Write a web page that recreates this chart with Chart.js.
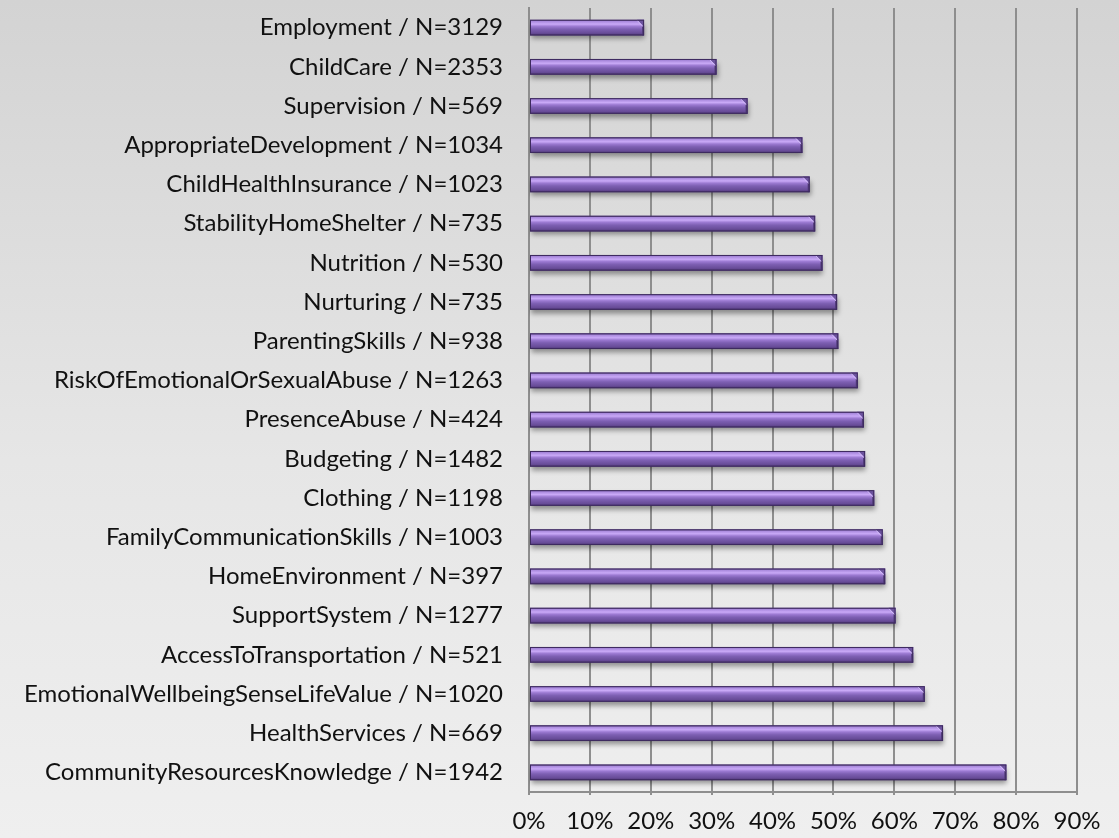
<!DOCTYPE html>
<html>
<head>
<meta charset="utf-8">
<script src="https://cdn.jsdelivr.net/npm/chart.js@4.4.1/dist/chart.umd.min.js"></script>
<style>
  html, body { margin: 0; padding: 0; background: #e4e4e4; }
  #wrap { width: 1119px; height: 838px; position: relative; }
  canvas { display: block; }
</style>
</head>
<body>
<div id="wrap"><canvas id="chart" width="1119" height="838"></canvas></div>
<script>
// Domains and their sample sizes
const domains = [
  'Employment', 'ChildCare', 'Supervision', 'AppropriateDevelopment',
  'ChildHealthInsurance', 'StabilityHomeShelter', 'Nutrition', 'Nurturing',
  'ParentingSkills', 'RiskOfEmotionalOrSexualAbuse', 'PresenceAbuse', 'Budgeting',
  'Clothing', 'FamilyCommunicationSkills', 'HomeEnvironment', 'SupportSystem',
  'AccessToTransportation', 'EmotionalWellbeingSenseLifeValue', 'HealthServices',
  'CommunityResourcesKnowledge'
];
const sampleSizes = [
  3129, 2353, 569, 1034, 1023, 735, 530, 735, 938, 1263,
  424, 1482, 1198, 1003, 397, 1277, 521, 1020, 669, 1942
];
// Share of families (percent)
const percentages = [
  18.9, 30.8, 35.9, 44.9, 46.1, 47.0, 48.2, 50.6, 50.8, 54.0,
  55.0, 55.2, 56.7, 58.1, 58.5, 60.2, 63.1, 65.0, 68.0, 78.4
];
// Axis tick labels
const tickLabels = ['0%', '10%', '20%', '30%', '40%', '50%', '60%', '70%', '80%', '90%'];

const categoryLabels = domains.map((d, i) => d + ' / N=' + sampleSizes[i]);

const FONT = 'Lato, "Open Sans", sans-serif';

// Page background: soft vertical grey gradient
const backdrop = {
  id: 'backdrop',
  beforeDraw(chart) {
    const { ctx, width, height } = chart;
    const g = ctx.createLinearGradient(0, 0, 0, height);
    g.addColorStop(0, '#d3d3d3');
    g.addColorStop(0.55, '#e6e6e6');
    g.addColorStop(1, '#efefef');
    ctx.save();
    ctx.fillStyle = g;
    ctx.fillRect(0, 0, width, height);
    ctx.restore();
  }
};

// Drop shadow under the bars
const barShadow = {
  id: 'barShadow',
  beforeDatasetDraw(chart) {
    const ctx = chart.ctx;
    ctx.save();
    ctx.shadowColor = 'rgba(0,0,0,0.38)';
    ctx.shadowBlur = 5;
    ctx.shadowOffsetX = 1;
    ctx.shadowOffsetY = 4;
  },
  afterDatasetDraw(chart) {
    chart.ctx.restore();
  }
};

// Bevelled end cap and edge lines on each bar
const bevel = {
  id: 'bevel',
  afterDatasetsDraw(chart) {
    const ctx = chart.ctx;
    const meta = chart.getDatasetMeta(0);
    ctx.save();
    meta.data.forEach(el => {
      const xe = el.x, xb = el.base;
      const yt = el.y - el.height / 2, yb = el.y + el.height / 2;
      const h = el.height;
      const c = Math.min(7, h * 0.45);
      // chamfered top-right corner
      ctx.beginPath();
      ctx.moveTo(xe - c, yt);
      ctx.lineTo(xe, yt);
      ctx.lineTo(xe, yt + c);
      ctx.closePath();
      ctx.fillStyle = '#6c529e';
      ctx.fill();
      // right facet
      ctx.fillStyle = '#4f3a78';
      ctx.fillRect(xe - 2, yt + c - 1, 2, yb - yt - c + 1);
      // diagonal highlight
      ctx.beginPath();
      ctx.moveTo(xe - c, yt + 0.5);
      ctx.lineTo(xe - 1, yt + c);
      ctx.strokeStyle = 'rgba(215,195,250,0.8)';
      ctx.lineWidth = 1;
      ctx.stroke();
      // outline
      ctx.strokeStyle = '#3d2a5e';
      ctx.lineWidth = 1;
      ctx.strokeRect(xb + 0.5, yt + 0.5, xe - xb - 1, h - 1);
    });
    ctx.restore();
  }
};

function barFill(context) {
  const chart = context.chart;
  const yScale = chart.scales && chart.scales.y;
  if (!chart.chartArea || !yScale) return '#7d5fb0';
  const cy = yScale.getPixelForValue(context.dataIndex);
  const band = yScale.height / domains.length;
  const h = band * 0.4;
  const g = chart.ctx.createLinearGradient(0, cy - h / 2, 0, cy + h / 2);
  g.addColorStop(0, '#5d4488');
  g.addColorStop(0.1, '#a888dc');
  g.addColorStop(0.28, '#c9a9f7');
  g.addColorStop(0.42, '#9c7ad2');
  g.addColorStop(0.6, '#7d5fb2');
  g.addColorStop(0.85, '#684c98');
  g.addColorStop(1, '#4a3470');
  return g;
}

new Chart(document.getElementById('chart'), {
  type: 'bar',
  data: {
    labels: categoryLabels,
    datasets: [{
      data: percentages,
      backgroundColor: barFill,
      borderWidth: 0,
      barPercentage: 0.4,
      categoryPercentage: 1.0
    }]
  },
  options: {
    indexAxis: 'y',
    responsive: false,
    animation: false,
    layout: { padding: { top: 8, right: 42, bottom: 0, left: 0 } },
    plugins: {
      legend: { display: false },
      tooltip: { enabled: false }
    },
    scales: {
      x: {
        min: 0,
        max: 90,
        afterFit(scale) {
          scale.height = 46;
        },
        ticks: {
          stepSize: 10,
          padding: 12,
          color: '#111',
          font: { family: FONT, size: 24 },
          callback: (v, i) => tickLabels[i]
        },
        grid: {
          color: '#8e8e8e',
          lineWidth: 2,
          drawTicks: true,
          tickLength: 3
        },
        border: { display: true, color: '#8e8e8e', width: 2 }
      },
      y: {
        afterFit(scale) {
          scale.width = 529;
          scale.paddingTop = 0;
          scale.paddingBottom = 0;
        },
        ticks: {
          padding: 26,
          color: '#111',
          font: { family: FONT, size: 24 },
          autoSkip: false
        },
        grid: { display: false, drawTicks: false },
        border: { display: true, color: '#8e8e8e', width: 2 }
      }
    }
  },
  plugins: [backdrop, barShadow, bevel]
});
</script>
</body>
</html>
